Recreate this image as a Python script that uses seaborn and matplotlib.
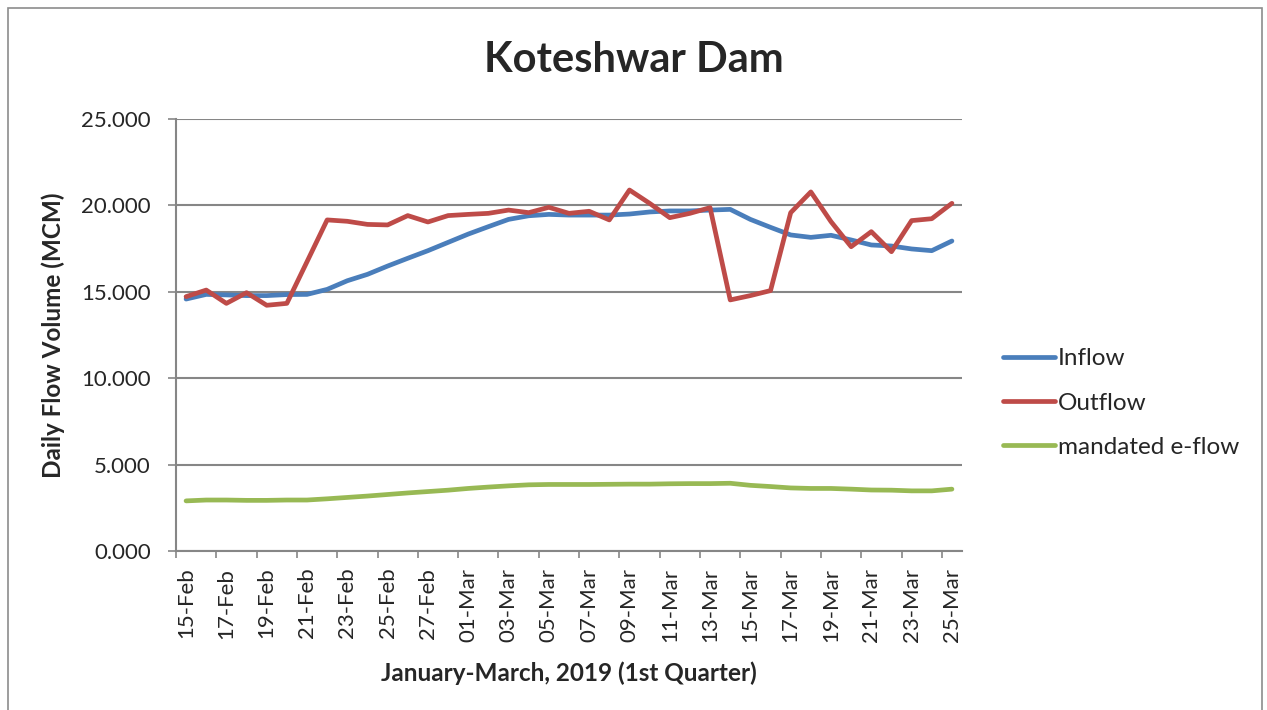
import numpy as np
import pandas as pd
import matplotlib
matplotlib.use("Agg")
import matplotlib.pyplot as plt
from matplotlib.lines import Line2D
from matplotlib.patches import Rectangle
import seaborn as sns

# --- data (MCM per day) ---
dates = pd.date_range("2019-02-15", "2019-03-25", freq="D")
date_labels = [d.strftime("%d-%b") for d in dates]

inflow = [14.58, 14.85, 14.82, 14.78, 14.78, 14.84, 14.85, 15.14, 15.64, 16.01,
          16.49, 16.94, 17.38, 17.86, 18.34, 18.77, 19.19, 19.40, 19.48, 19.44,
          19.44, 19.44, 19.50, 19.62, 19.68, 19.68, 19.73, 19.77, 19.19, 18.73,
          18.29, 18.15, 18.27, 18.00, 17.71, 17.65, 17.48, 17.38, 17.94]
outflow = [14.72, 15.10, 14.33, 14.95, 14.22, 14.33, 16.74, 19.16, 19.08, 18.90,
           18.87, 19.41, 19.04, 19.41, 19.48, 19.54, 19.73, 19.58, 19.89, 19.54,
           19.66, 19.16, 20.89, 20.12, 19.29, 19.54, 19.87, 14.53, 14.78, 15.07,
           19.58, 20.78, 19.06, 17.61, 18.48, 17.32, 19.12, 19.23, 20.12]
eflow = [2.90, 2.95, 2.95, 2.93, 2.93, 2.95, 2.95, 3.02, 3.10, 3.18,
         3.27, 3.36, 3.44, 3.52, 3.62, 3.70, 3.77, 3.83, 3.85, 3.85,
         3.85, 3.86, 3.87, 3.87, 3.89, 3.90, 3.90, 3.92, 3.80, 3.73,
         3.65, 3.62, 3.62, 3.58, 3.53, 3.52, 3.48, 3.48, 3.58]

series_names = ["Inflow", "Outflow", "mandated e-flow"]
colors = ["#4A7EBB", "#BE4B48", "#98B954"]

df = pd.DataFrame({
    "day": list(range(len(dates))) * 3,
    "value": inflow + outflow + eflow,
    "series": np.repeat(series_names, len(dates)),
})

sns.set_theme(style="white")
plt.rcParams["font.family"] = ["Lato", "DejaVu Sans"]

fig = plt.figure(figsize=(12.67, 7.10), dpi=100)
ax = fig.add_axes([176 / 1267, 1 - 551 / 710, (962 - 176) / 1267, (551 - 119) / 710])

sns.lineplot(data=df, x="day", y="value", hue="series", hue_order=series_names,
             palette=colors, linewidth=3.4, ax=ax, legend=False)
for line in ax.lines:
    line.set_solid_capstyle("round")

# axes styling, Excel look
grid_col = "#868686"
ax.set_xlim(-0.5, len(dates) - 0.5)
ax.set_ylim(0, 25)
ax.set_yticks(np.arange(0, 26, 5))
ax.set_yticklabels([f"{v:.3f}" for v in np.arange(0, 26, 5)], fontsize=16)
ax.yaxis.grid(True, color=grid_col, linewidth=1.5)
ax.set_axisbelow(True)
for s in ["top", "right"]:
    ax.spines[s].set_visible(False)
for s in ["left", "bottom"]:
    ax.spines[s].set_color(grid_col)
    ax.spines[s].set_linewidth(1.5)
ax.tick_params(axis="y", length=6, width=1.2, color=grid_col, direction="out", left=True, pad=12)

ax.set_xticks(range(0, len(dates), 2))
ax.set_xticklabels(date_labels[::2], rotation=90, fontsize=16)
ax.set_xticks(np.arange(-0.5, len(dates) - 1, 2), minor=True)
ax.tick_params(axis="x", which="major", length=0, pad=12)
ax.tick_params(axis="x", which="minor", length=5, width=1.2, color=grid_col, bottom=True)

ax.set_xlabel("January-March, 2019 (1st Quarter)", fontsize=17.5, fontweight="bold")
ax.set_ylabel("Daily Flow Volume (MCM)", fontsize=17.5, fontweight="bold")
ax.xaxis.set_label_coords(0.5, -0.255)
ax.yaxis.set_label_coords(-0.141, 0.5)

fig.text(0.5, 1 - 60 / 710, "Koteshwar Dam", ha="center", va="center",
         fontsize=30, fontweight="bold")

handles = [Line2D([0], [0], color=c, lw=3.4, solid_capstyle="round") for c in colors]
fig.legend(handles, series_names, loc="center left",
           bbox_to_anchor=(981 / 1267, 1 - 403 / 710), frameon=False, fontsize=17.5,
           handlelength=2.15, handletextpad=0.12, labelspacing=0.95)

# outer chart border
fig.patches.append(Rectangle((8 / 1267, -0.05), (1262 - 8) / 1267, 1.05 - 8 / 710,
                             transform=fig.transFigure, fill=False,
                             edgecolor="#8C8C8C", linewidth=1.2))

fig.savefig("out.png", dpi=100)
